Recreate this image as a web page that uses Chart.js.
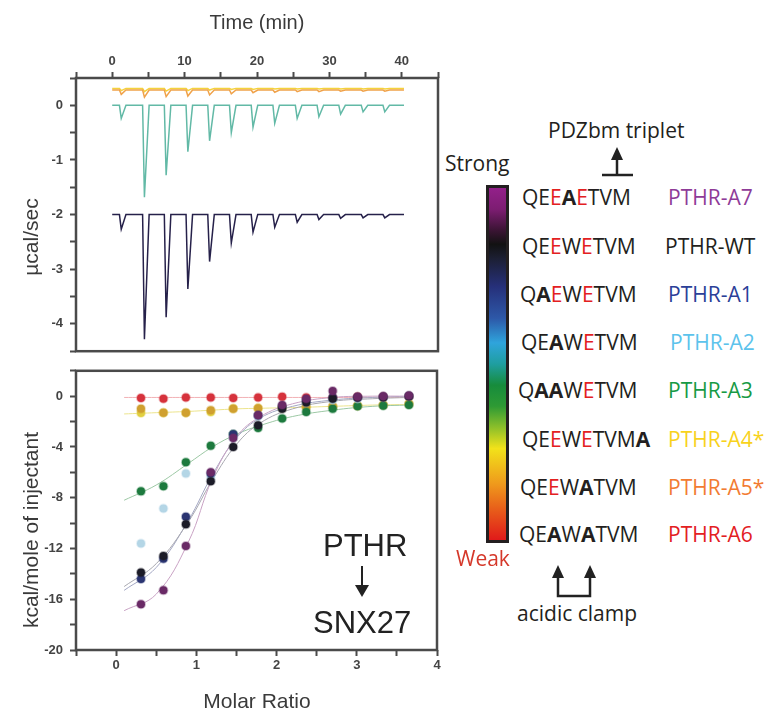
<!DOCTYPE html>
<html>
<head>
<meta charset="utf-8">
<script src="https://cdn.jsdelivr.net/npm/chart.js@4.4.1/dist/chart.umd.min.js"></script>
<style>
  body { margin: 0; background: #fff; width: 768px; height: 715px; overflow: hidden; position: relative; font-family: "Liberation Sans", Arial, sans-serif; }
  canvas { position: absolute; left: 0; }
  #topChart { top: 0; }
  #bottomChart { top: 356px; }
  .t { position: absolute; white-space: nowrap; line-height: 1; color: #3a3a3a; }
  .axt { font-size: 21px; transform: translate(-50%, -50%); }
  .rot { transform: translate(-50%, -50%) rotate(-90deg); }
  .lg { position: absolute; white-space: nowrap; line-height: 1; font-family: "Open Sans", "Noto Sans", sans-serif; font-size: 21px; color: #231f20; }
  .lg b { font-weight: 700; }
  .lg .r { color: #e3201f; }
  .big { font-size: 31px; color: #222; }
  #bar {
    position: absolute; left: 486px; top: 185px; width: 23px; height: 358px; box-sizing: border-box;
    border: 3px solid #231f20;
    background: linear-gradient(to bottom, #93208a 0%, #7d1d72 6%, #3b1434 12%, #121212 16%, #1c1f33 20%, #26307a 28%, #2d58a8 37%, #2fa4dc 44%, #1f9ea0 50%, #178c3c 56%, #2e9a34 62%, #8cbf2a 68%, #f2e21a 74%, #ef9a1c 84%, #e8601a 91%, #e01a1a 100%);
  }
  svg { position: absolute; left: 0; top: 0; }
</style>
</head>
<body>
<canvas id="topChart" width="444" height="366"></canvas>
<canvas id="bottomChart" width="444" height="359"></canvas>

<div class="t axt" style="left:257px;top:22px;font-size:20px">Time (min)</div>
<div class="t axt rot" style="left:30px;top:237px">µcal/sec</div>
<div class="t axt rot" style="left:30px;top:530px">kcal/mole of injectant</div>
<div class="t axt" style="left:257px;top:700px">Molar Ratio</div>

<div class="t big" style="left:323px;top:530px">PTHR</div>
<div class="t big" style="left:313px;top:607px">SNX27</div>

<div id="bar"></div>
<div class="lg" style="left:445px;top:153px">Strong</div>
<div class="lg" style="left:456px;top:548px;color:#d5382a">Weak</div>
<div class="lg" style="left:548px;top:120px">PDZbm triplet</div>
<div class="lg" style="left:517px;top:603px">acidic clamp</div>

<div class="lg" style="left:522px;top:187px">QE<span class="r">E</span><b>A</b><span class="r">E</span>TVM</div>
<div class="lg" style="left:522px;top:236px">QE<span class="r">E</span>W<span class="r">E</span>TVM</div>
<div class="lg" style="left:520px;top:284px">Q<b>A</b><span class="r">E</span>W<span class="r">E</span>TVM</div>
<div class="lg" style="left:521px;top:332px">QE<b>A</b>W<span class="r">E</span>TVM</div>
<div class="lg" style="left:518px;top:380px">Q<b>AA</b>W<span class="r">E</span>TVM</div>
<div class="lg" style="left:522px;top:429px">QE<span class="r">E</span>W<span class="r">E</span>TVM<b>A</b></div>
<div class="lg" style="left:520px;top:477px">QE<span class="r">E</span>W<b>A</b>TVM</div>
<div class="lg" style="left:519px;top:524px">QE<b>A</b>W<b>A</b>TVM</div>

<div class="lg" style="left:668px;top:187px;color:#8e3b98">PTHR-A7</div>
<div class="lg" style="left:665px;top:236px;color:#231f20">PTHR-WT</div>
<div class="lg" style="left:668px;top:284px;color:#2b3f98">PTHR-A1</div>
<div class="lg" style="left:670px;top:332px;color:#5cc3ec">PTHR-A2</div>
<div class="lg" style="left:668px;top:380px;color:#179a45">PTHR-A3</div>
<div class="lg" style="left:668px;top:429px;color:#f8d21c">PTHR-A4*</div>
<div class="lg" style="left:668px;top:477px;color:#f27b32">PTHR-A5*</div>
<div class="lg" style="left:668px;top:524px;color:#e3201f">PTHR-A6</div>

<svg width="768" height="715">
  <g stroke="#222" stroke-width="2.5" fill="none">
    <line x1="362" y1="566" x2="362" y2="588" stroke-width="2"/>
    <line x1="617" y1="157" x2="617" y2="175"/>
    <line x1="602" y1="175" x2="633" y2="175"/>
    <path d="M558,576 V596 H590 V576"/>
  </g>
  <g fill="#222">
    <polygon points="355,585 369,585 362,597"/>
    <polygon points="611,160 623,160 617,147"/>
    <polygon points="552,578 564,578 558,565"/>
    <polygon points="584,578 596,578 590,565"/>
  </g>
</svg>

<script>
// top panel: raw injection traces
const injTime = [1.0, 4.2, 7.2, 10.2, 13.2, 16.2, 19.2, 22.2, 25.3, 28.3, 31.3, 34.4, 37.4];
const runEnd = 40.3;
const darkBase = -2.0;
const darkPeaks = [-2.27, -4.28, -3.88, -3.36, -2.86, -2.52, -2.32, -2.23, -2.14, -2.09, -2.07, -2.06, -2.06];
const tealBase = 0;
const tealPeaks = [-0.24, -1.68, -1.28, -0.85, -0.65, -0.5, -0.4, -0.33, -0.24, -0.21, -0.16, -0.12, -0.12];
const orangeBase = 0.28;
const orangePeaks = [0.2, 0.15, 0.16, 0.17, 0.19, 0.21, 0.23, 0.24, 0.25, 0.25, 0.26, 0.26, 0.26];
const yellowBase = 0.31;
const yellowPeaks = [0.27, 0.25, 0.26, 0.27, 0.28, 0.29, 0.29, 0.3, 0.3, 0.3, 0.3, 0.3, 0.3];

// bottom panel: integrated heats
const molarRatio = [0.31, 0.59, 0.87, 1.18, 1.46, 1.77, 2.07, 2.37, 2.70, 3.01, 3.33, 3.65];
const heatA7 = [-16.4, -15.3, -11.8, -6.0, -3.3, -1.5, -0.7, -0.2, 0.4, -0.05, 0.0, 0.05];
const heatWT = [-13.9, -12.6, -10.1, -6.7, -4.0, -2.3, -1.0, -0.5, -0.2, -0.1, -0.1, 0.0];
const heatA1 = [-14.4, -12.8, -9.5, -6.1, -3.0, -1.5, -0.8, -0.3, -0.1, -0.1, -0.05, 0.0];
const heatA2 = [-11.6, -8.85, -6.1, -6.4, -3.3, -1.6, -0.9, -0.5, -0.3, -0.2, -0.1, 0.0];
const heatA3 = [-7.5, -7.1, -5.2, -3.9, -3.0, -2.5, -1.75, -1.25, -1.0, -0.8, -0.75, -0.7];
const heatA4 = [-1.33, -1.3, -1.3, -1.25, -0.97, -0.95, -0.9, -0.85, -0.82, -0.75, -0.7, -0.6];
const heatA5 = [-1.0, -1.3, -1.3, -1.1, -1.0, -0.95, -0.9, -0.85, -0.8, -0.75, -0.7, -0.62];
const heatA6 = [-0.15, -0.2, -0.1, -0.1, -0.15, -0.1, -0.05, -0.1, -0.1, -0.05, -0.05, -0.05];

// fitted curves
const fitRatio = [0.1, 0.5, 0.9, 1.2, 1.5, 1.8, 2.2, 2.7, 3.2, 3.65];
const fitA7 = [-16.9, -15.6, -11.5, -6.5, -3.2, -1.6, -0.6, -0.1, 0.0, 0.0];
const fitWT = [-15.0, -13.2, -9.9, -6.6, -3.8, -2.1, -1.0, -0.4, -0.2, -0.1];
const fitA1 = [-15.3, -13.5, -9.8, -6.2, -3.3, -1.7, -0.8, -0.3, -0.1, 0.0];
const fitA3 = [-8.2, -7.0, -5.3, -4.0, -3.0, -2.3, -1.6, -1.1, -0.8, -0.7];
const fitA4 = [-1.4, -1.3, -1.2, -1.1, -1.0, -0.95, -0.9, -0.8, -0.7, -0.65];
const fitA6 = [-0.1, -0.1, -0.1, -0.1, -0.1, -0.1, -0.1, -0.1, -0.1, -0.1];

const tickFont = { family: "'Liberation Sans', Arial, sans-serif", size: 13, weight: "bold" };

function trace(base, peaks) {
  const out = [{ x: 0, y: base }];
  injTime.forEach((t, i) => {
    out.push({ x: t, y: base }, { x: t + 0.25, y: peaks[i] }, { x: t + 0.9, y: base });
  });
  out.push({ x: runEnd, y: base });
  return out;
}

function pts(xs, ys) {
  return xs.map((x, i) => ({ x: x, y: ys[i] }));
}

const frame = {
  id: "frame",
  afterDatasetsDraw(chart) {
    const { ctx, chartArea: a } = chart;
    ctx.save();
    ctx.strokeStyle = "#4a4a4a";
    ctx.lineWidth = 2.5;
    ctx.strokeRect(a.left, a.top, a.right - a.left, a.bottom - a.top);
    ctx.restore();
  },
};

function axisGrid() {
  return { drawOnChartArea: false, drawTicks: true, tickLength: 6, tickColor: "#4a4a4a", tickWidth: 2 };
}

function traceSet(data, color) {
  return { data: data, showLine: true, borderColor: color, borderWidth: 1.5, pointRadius: 0, tension: 0 };
}

new Chart(document.getElementById("topChart"), {
  type: "scatter",
  data: {
    datasets: [
      traceSet(trace(darkBase, darkPeaks), "#26214a"),
      traceSet(trace(tealBase, tealPeaks), "#62b9a6"),
      traceSet(trace(orangeBase, orangePeaks), "#f0a24a"),
      traceSet(trace(yellowBase, yellowPeaks), "#f4d23c"),
    ],
  },
  options: {
    responsive: false,
    animation: false,
    layout: { padding: { top: 0, right: 6, bottom: 2, left: 0 } },
    plugins: { legend: { display: false }, tooltip: { enabled: false } },
    scales: {
      x: {
        type: "linear", position: "top", min: -5, max: 45,
        ticks: { stepSize: 5, autoSkip: false, maxRotation: 0, padding: 3, color: "#444", font: tickFont,
          callback: (v) => (v % 10 === 0 ? String(v) : "") },
        grid: axisGrid(),
        border: { display: false },
        afterFit: (s) => { s.height = 78; },
      },
      y: {
        min: -4.5, max: 0.5,
        ticks: { stepSize: 0.5, autoSkip: false, padding: 7, color: "#444", font: tickFont,
          callback: (v) => (Number.isInteger(v) ? String(v) : "") },
        grid: axisGrid(),
        border: { display: false },
        afterFit: (s) => { s.width = 76; },
      },
    },
  },
  plugins: [frame],
});

function dots(ys, color, order) {
  return {
    data: pts(molarRatio, ys), showLine: false, order: order,
    pointRadius: 4, pointBackgroundColor: color, pointBorderColor: color + "55", pointBorderWidth: 2,
  };
}

function fit(ys, color) {
  return { data: pts(fitRatio, ys), showLine: true, order: 20, borderColor: color, borderWidth: 1, pointRadius: 0, tension: 0.4 };
}

new Chart(document.getElementById("bottomChart"), {
  type: "scatter",
  data: {
    datasets: [
      fit(fitA7, "#c9a2c4"),
      fit(fitWT, "#a8a8b0"),
      fit(fitA1, "#a4a8c4"),
      fit(fitA3, "#9cc8a4"),
      fit(fitA4, "#ece48c"),
      fit(fitA6, "#f2b0b4"),
      dots(heatA6, "#d6323c", 8),
      dots(heatA4, "#e2d040", 7),
      dots(heatA5, "#d0a030", 6),
      dots(heatA3, "#1d7a3e", 5),
      dots(heatA2, "#b4d6e6", 4),
      dots(heatA1, "#2b3572", 3),
      dots(heatWT, "#1c1c28", 2),
      dots(heatA7, "#6a2a66", 1),
    ],
  },
  options: {
    responsive: false,
    animation: false,
    layout: { padding: { top: 8, right: 7, bottom: 0, left: 0 } },
    plugins: { legend: { display: false }, tooltip: { enabled: false } },
    scales: {
      x: {
        type: "linear", min: -0.5, max: 4,
        ticks: { stepSize: 0.5, autoSkip: false, maxRotation: 0, padding: 2, color: "#444", font: tickFont,
          callback: (v) => (Number.isInteger(v) ? String(v) : "") },
        grid: axisGrid(),
        border: { display: false },
        afterFit: (s) => { s.height = 65; },
      },
      y: {
        min: -20, max: 2,
        ticks: { stepSize: 2, autoSkip: false, padding: 7, color: "#444", font: tickFont,
          callback: (v) => (v % 4 === 0 ? String(v) : "") },
        grid: axisGrid(),
        border: { display: false },
        afterFit: (s) => { s.width = 76; },
      },
    },
  },
  plugins: [frame],
});
</script>
</body>
</html>
